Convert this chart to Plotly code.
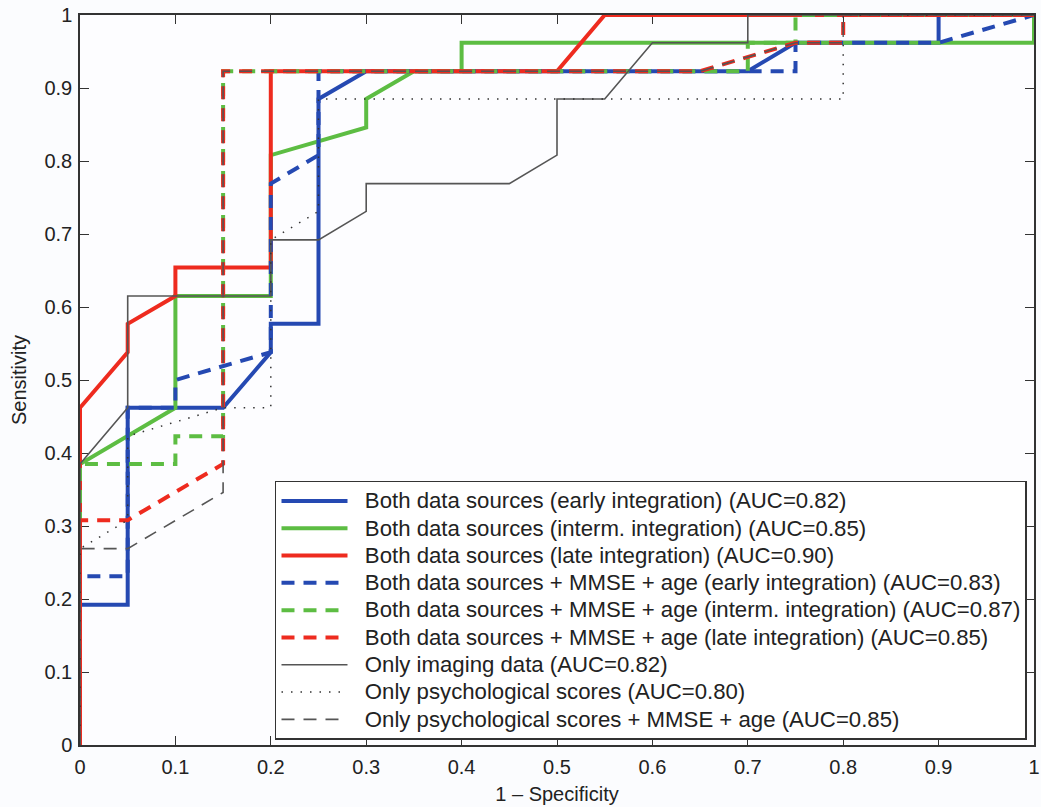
import plotly.graph_objects as go

# ---- data (1 - specificity, sensitivity) ----
fpr_early = [0, 0, 0.05, 0.05, 0.15, 0.2, 0.2, 0.25, 0.25, 0.3, 0.7, 0.75, 0.9, 0.9, 1]
tpr_early = [0, 0.192, 0.192, 0.462, 0.462, 0.538, 0.577, 0.577, 0.885, 0.923, 0.923, 0.962, 0.962, 1, 1]

fpr_interm = [0, 0, 0.1, 0.1, 0.2, 0.2, 0.3, 0.3, 0.35, 0.4, 0.4, 1, 1]
tpr_interm = [0, 0.385, 0.462, 0.615, 0.615, 0.808, 0.846, 0.885, 0.923, 0.923, 0.962, 0.962, 1]

fpr_late = [0, 0, 0.05, 0.05, 0.1, 0.1, 0.2, 0.2, 0.5, 0.55, 1]
tpr_late = [0, 0.462, 0.538, 0.577, 0.615, 0.654, 0.654, 0.923, 0.923, 1, 1]

fpr_early_m = [0, 0, 0.05, 0.05, 0.1, 0.1, 0.2, 0.2, 0.25, 0.25, 0.75, 0.75, 0.9, 1]
tpr_early_m = [0, 0.231, 0.231, 0.462, 0.462, 0.5, 0.538, 0.769, 0.808, 0.923, 0.923, 0.962, 0.962, 1]

fpr_interm_m = [0, 0, 0.1, 0.1, 0.15, 0.15, 0.7, 0.7, 0.75, 0.75, 1]
tpr_interm_m = [0, 0.385, 0.385, 0.423, 0.423, 0.923, 0.923, 0.962, 0.962, 1, 1]

fpr_late_m = [0, 0, 0.05, 0.15, 0.15, 0.65, 0.75, 0.8, 0.8, 1]
tpr_late_m = [0, 0.308, 0.308, 0.385, 0.923, 0.923, 0.962, 0.962, 1, 1]

fpr_img = [0, 0, 0.05, 0.05, 0.2, 0.2, 0.25, 0.3, 0.3, 0.45, 0.5, 0.5, 0.55, 0.6, 0.7, 0.7, 1]
tpr_img = [0, 0.385, 0.462, 0.615, 0.615, 0.692, 0.692, 0.731, 0.769, 0.769, 0.808, 0.885, 0.885, 0.962, 0.962, 1, 1]

fpr_psy = [0, 0, 0.05, 0.05, 0.15, 0.2, 0.2, 0.25, 0.25, 0.8, 0.8, 1]
tpr_psy = [0, 0.269, 0.308, 0.423, 0.462, 0.462, 0.692, 0.731, 0.885, 0.885, 1, 1]

fpr_psy_m = [0, 0, 0.05, 0.15, 0.15, 0.65, 0.75, 0.8, 0.8, 1]
tpr_psy_m = [0, 0.269, 0.269, 0.346, 0.923, 0.923, 0.962, 0.962, 1, 1]

names = [
    "Both data sources (early integration) (AUC=0.82)",
    "Both data sources (interm. integration) (AUC=0.85)",
    "Both data sources (late integration) (AUC=0.90)",
    "Both data sources + MMSE + age (early integration) (AUC=0.83)",
    "Both data sources + MMSE + age (interm. integration) (AUC=0.87)",
    "Both data sources + MMSE + age (late integration) (AUC=0.85)",
    "Only imaging data (AUC=0.82)",
    "Only psychological scores (AUC=0.80)",
    "Only psychological scores + MMSE + age (AUC=0.85)",
]
xticks = [0, 0.1, 0.2, 0.3, 0.4, 0.5, 0.6, 0.7, 0.8, 0.9, 1]
yticks = [0, 0.1, 0.2, 0.3, 0.4, 0.5, 0.6, 0.7, 0.8, 0.9, 1]

BLUE = "#2549b2"
GREEN = "#5dbd43"
RED = "#ee2b1f"
GRAY = "#555555"
DASH = "13px,9px"

series = [
    (fpr_early, tpr_early, BLUE, 4, "solid"),
    (fpr_interm, tpr_interm, GREEN, 4, "solid"),
    (fpr_late, tpr_late, RED, 4, "solid"),
    (fpr_early_m, tpr_early_m, BLUE, 4, DASH),
    (fpr_interm_m, tpr_interm_m, GREEN, 4, DASH),
    (fpr_late_m, tpr_late_m, RED, 4, DASH),
    (fpr_img, tpr_img, GRAY, 1.6, "solid"),
    (fpr_psy, tpr_psy, "#333333", 1.5, "1.5px,8px"),
    (fpr_psy_m, tpr_psy_m, GRAY, 1.6, "13px,9px"),
]

fig = go.Figure()
for (xs, ys, col, w, dash), nm in zip(series, names):
    fig.add_trace(go.Scatter(x=xs, y=ys, mode="lines",
                             name='<span style="font-size:22.2px">\u00a0\u00a0' + nm + '</span>',
                             line=dict(color=col, width=w, dash=dash)))

FONT = "Liberation Sans, Arial, Helvetica, sans-serif"
axis_common = dict(
    range=[0, 1], showgrid=False, zeroline=False,
    showline=True, linecolor="#333333", linewidth=1.5, mirror="ticks",
    ticks="inside", ticklen=9, tickwidth=1.2, tickcolor="#333333",
    tickfont=dict(family=FONT, size=20, color="#222222"),
    layer="below traces", ticklabeloverflow="allow",
)
fig.update_layout(
    width=1041, height=807,
    margin=dict(l=80, r=7, t=15, b=62, autoexpand=False),
    paper_bgcolor="#fbfcfe", plot_bgcolor="#fdfdff",
    font=dict(family=FONT, size=20, color="#222222"),
    xaxis=dict(axis_common, tickvals=xticks, ticktext=[("%g" % v) for v in xticks],
               title=dict(text="1 – Specificity", font=dict(size=20), standoff=10),
               ticklabelstandoff=3),
    yaxis=dict(axis_common, tickvals=yticks, ticktext=[("%g" % v) for v in yticks],
               title=dict(text="Sensitivity", font=dict(size=20), standoff=12),
               ticklabelstandoff=2),
    legend=dict(x=0.2044, y=0.362, xanchor="left", yanchor="top",
                bgcolor="#ffffff", bordercolor="#333333", borderwidth=1.5,
                font=dict(family=FONT, size=18.7, color="#222222"),
                itemwidth=66, tracegroupgap=0),
    showlegend=True,
)

fig.write_html("out.html", config={"displayModeBar": False},
               post_script="document.body.style.margin='0';document.body.style.overflow='hidden';")
